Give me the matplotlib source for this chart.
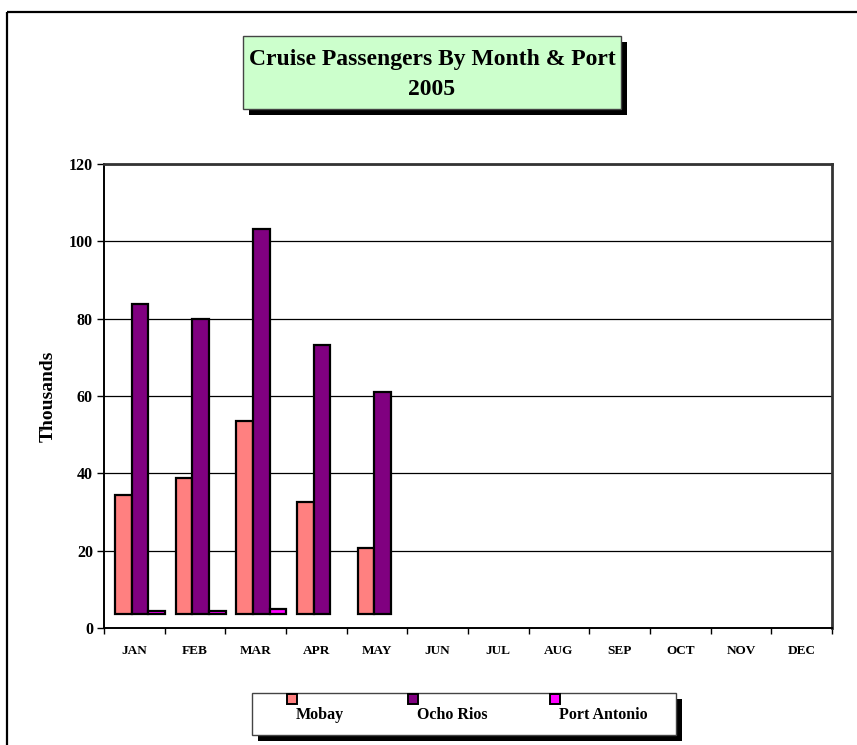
"""
Cruise passengers by month & port, 2005 -- Excel-style clustered column chart
"""
import matplotlib
matplotlib.use("Agg")
import matplotlib.pyplot as plt
from matplotlib.patches import Rectangle
import numpy as np

# ── Data (thousands) ────────────────────────────────────
months = ["JAN", "FEB", "MAR", "APR", "MAY", "JUN",
          "JUL", "AUG", "SEP", "OCT", "NOV", "DEC"]
ports = ["Mobay", "Ocho Rios", "Port Antonio"]
mobay = [34.4, 38.7, 53.5, 32.6, 20.6]
ocho_rios = [83.7, 79.9, 103.2, 73.2, 61.0]
port_antonio = [4.5, 4.4, 4.9, 0, 0]
series = [mobay, ocho_rios, port_antonio]
colors = ["#FF8080", "#800080", "#FF00FF"]
y_ticks = [0, 20, 40, 60, 80, 100, 120]

# 3-D look: the columns stand on a floor slightly above the axis
FLOOR = 3.6

plt.rcParams.update({
    "font.family": "Liberation Serif",
    "font.weight": "bold",
    "figure.facecolor": "white",
    "axes.facecolor": "white",
})

W, H = 857, 745
fig = plt.figure(figsize=(W / 100, H / 100), dpi=100)

# overlay in pixel coords for the frame, title box and legend
ov = fig.add_axes([0, 0, 1, 1], zorder=0)
ov.set_xlim(0, W)
ov.set_ylim(H, 0)
ov.axis("off")

# outer chart frame (runs off the right and bottom edges)
ov.add_patch(Rectangle((7.5, 12), 900, 800, fill=False,
                       edgecolor="black", linewidth=1.6))

# ── Plot area ──────────────────────────────────────────
ax = fig.add_axes([104 / W, 1 - 628 / H, (832 - 104) / W, (628 - 164) / H],
                  zorder=1)
ax.set_facecolor("none")

n = len(months)
width = 0.2746
offset = 0.181
for k, (vals, col) in enumerate(zip(series, colors)):
    x = np.arange(len(vals)) + offset + k * width
    heights = np.array(vals) - FLOOR
    keep = np.array(vals) > 0
    ax.bar(x[keep], heights[keep], width=width, bottom=FLOOR, align="edge",
           color=col, edgecolor="black", linewidth=1.6, zorder=3)

ax.set_xlim(0, n)
ax.set_ylim(0, 120)
ax.set_yticks(y_ticks)
ax.set_yticklabels([str(v) for v in y_ticks], fontsize=11.5)
ax.yaxis.grid(True, color="black", linewidth=0.9)
ax.set_axisbelow(True)

ax.set_xticks(np.arange(n + 1))
ax.set_xticklabels([])
ax.set_xticks(np.arange(n) + 0.5, minor=True)
ax.set_xticklabels(months, minor=True, fontsize=9.5)
ax.tick_params(axis="x", which="major", direction="out", length=4,
               width=1, color="black")
ax.tick_params(axis="x", which="minor", length=0, pad=12)
ax.tick_params(axis="y", direction="out", length=5, width=1, pad=3)

for side in ["left", "bottom"]:
    ax.spines[side].set_color("black")
    ax.spines[side].set_linewidth(1.4)
for side in ["top", "right"]:
    ax.spines[side].set_color("#333333")
    ax.spines[side].set_linewidth(2)

ax.set_ylabel("Thousands", fontsize=14, fontweight="bold", labelpad=9)

# ── Title box with drop shadow ─────────────────────────
tx0, ty0, tx1, ty1 = 243, 36, 621, 109
ov.add_patch(Rectangle((tx0 + 6, ty0 + 6), tx1 - tx0, ty1 - ty0,
                       facecolor="black", edgecolor="none"))
ov.add_patch(Rectangle((tx0, ty0), tx1 - tx0, ty1 - ty0,
                       facecolor="#CCFFCC", edgecolor="#444444", linewidth=1))
ov.text((tx0 + tx1) / 2, (ty0 + ty1) / 2 + 2,
        "Cruise Passengers By Month & Port\n2005",
        ha="center", va="center", fontsize=17, fontweight="bold",
        linespacing=1.6)

# ── Legend box (markers sit above the labels) ──────────
lx0, ly0, lx1, ly1 = 252, 693, 676, 735
ov.add_patch(Rectangle((lx0 + 6, ly0 + 6), lx1 - lx0, ly1 - ly0,
                       facecolor="black", edgecolor="none"))
ov.add_patch(Rectangle((lx0, ly0), lx1 - lx0, ly1 - ly0,
                       facecolor="white", edgecolor="#444444", linewidth=1))
marker_x = [292, 413, 555]
for name, col, mx in zip(ports, colors, marker_x):
    ov.add_patch(Rectangle((mx - 5, 694), 10, 10, facecolor=col,
                           edgecolor="black", linewidth=1.4))
    ov.text(mx + 4, 715, name, ha="left", va="center",
            fontsize=11.5, fontweight="bold")

fig.savefig("out.png", dpi=100)
plt.close(fig)
